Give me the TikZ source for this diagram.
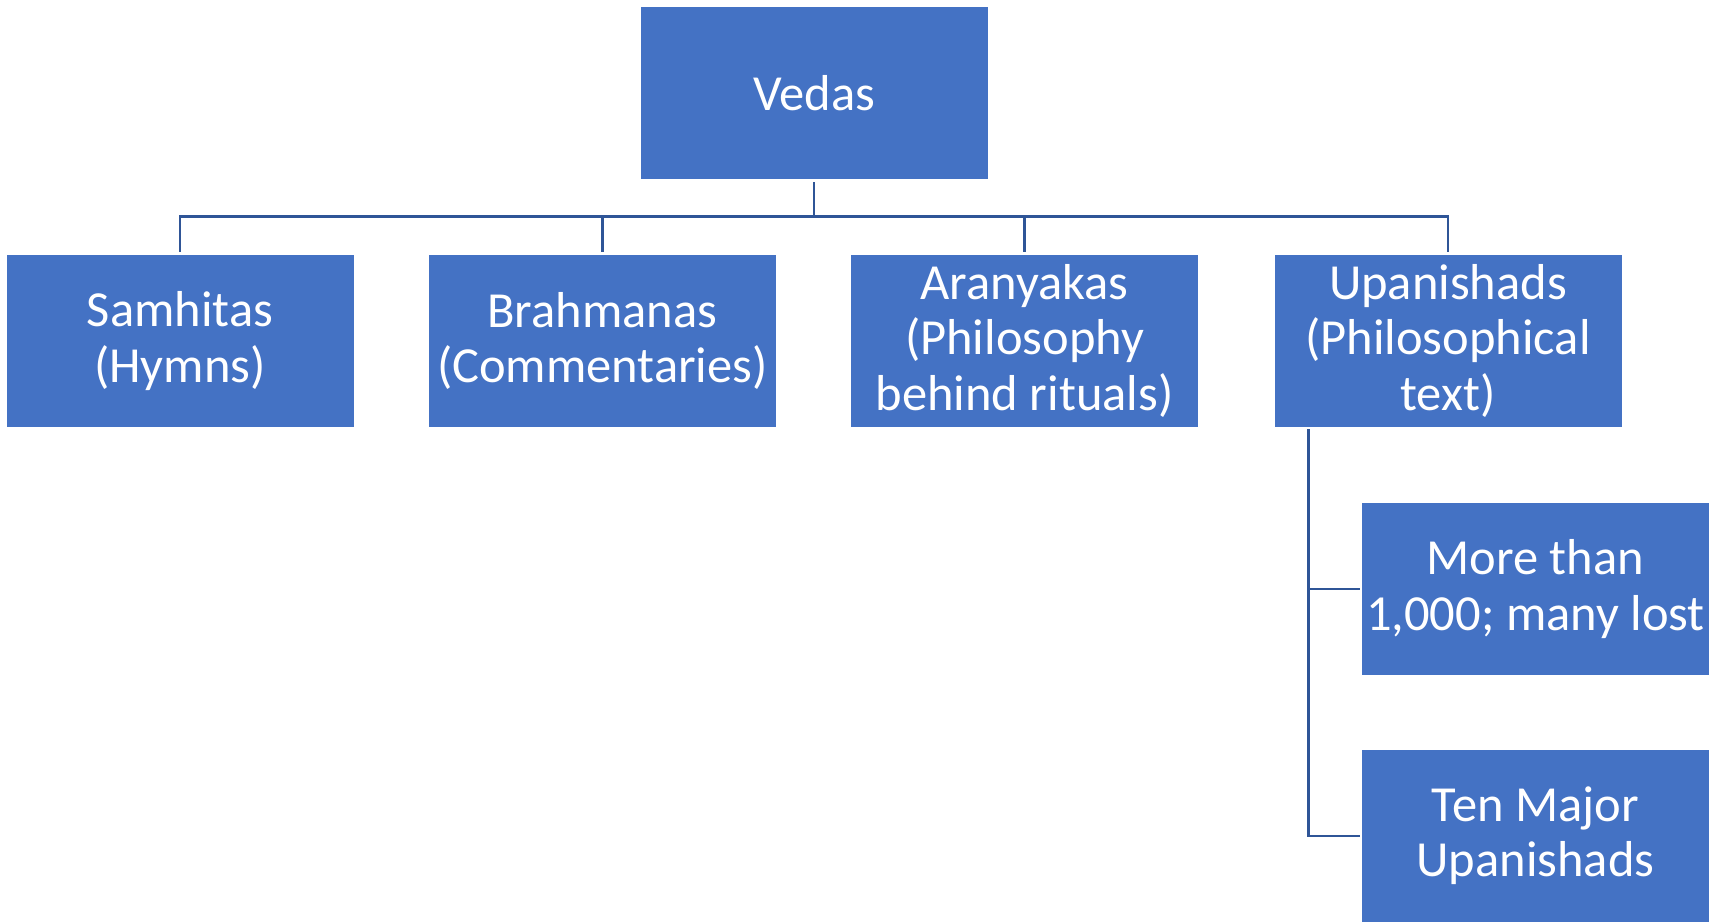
\documentclass[tikz,border=0pt]{standalone}
\usepackage{fontspec}
\setmainfont{Carlito}
\usepackage{tikz}
\usetikzlibrary{positioning}
\definecolor{boxblue}{HTML}{4472C4}
\definecolor{lineblue}{HTML}{2F5597}
\tikzstyle{vedabox} = [rectangle, minimum width=347pt, minimum height=172pt, inner sep=0pt, align=center, text centered, fill=boxblue, text=white, font=\fontsize{50.5}{55.5}\selectfont]
\tikzstyle{link} = [line width=2.5pt, draw=lineblue]

\begin{document}
\begin{tikzpicture}[x=1pt, y=-1pt, node distance=247pt]
\useasboundingbox (0,0) rectangle (1711,923);
\node (vedas) [vedabox] at (814.2,92.9) {Vedas};
\node (samhitas) [vedabox] at (180,340.8) {Samhitas\\(Hymns)};
\node (brahmanas) [vedabox] at (602.4,340.8) {Brahmanas\\(Commentaries)};
\node (aranyakas) [vedabox] at (1024.6,340.8) {Aranyakas\\(Philosophy\\behind rituals)};
\node (upanishads) [vedabox] at (1448,340.8) {Upanishads\\(Philosophical\\text)};
\node (many) [vedabox] at (1535.4,588.8) {More than\\1,000; many lost};
\node (major) [vedabox, below of=many] {Ten Major\\Upanishads};

% top level
\coordinate (bus) at (814.2,216.7);
\draw [link] ([yshift=-3pt]vedas.south) -- (bus);
\draw [link] ([yshift=3pt]samhitas.north) |- (bus) -| ([yshift=3pt]upanishads.north);
\draw [link] ([yshift=3pt]brahmanas.north) -- (brahmanas.north |- bus);
\draw [link] ([yshift=3pt]aranyakas.north) -- (aranyakas.north |- bus);

% upanishads
\coordinate (spine) at (1308.3,429);
\draw [link] (spine) |- ([xshift=-2pt]many.west);
\draw [link] (spine) |- ([xshift=-2pt]major.west);
\end{tikzpicture}
\end{document}
